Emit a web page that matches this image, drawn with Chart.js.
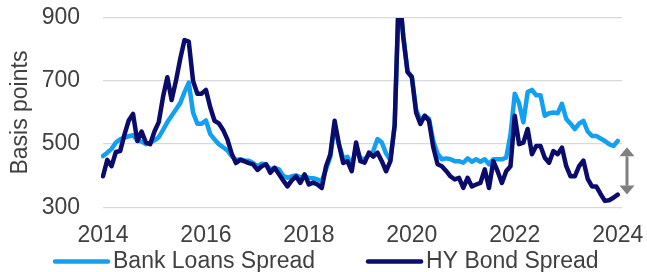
<!DOCTYPE html>
<html>
<head>
<meta charset="utf-8">
<script src="https://cdn.jsdelivr.net/npm/chart.js@4.4.1/dist/chart.umd.min.js"></script>
<style>
  html, body { margin: 0; padding: 0; background: #fff; }
</style>
</head>
<body>
<canvas id="spreadChart" width="647" height="272"></canvas>
<script>
// monthly categories, Jan 2014 .. Feb 2024 (last one is only room at the right edge)
let months = [];
for (let yr = 2014; yr <= 2024; yr++) {
    for (let m = 1; m <= 12; m++) {
        if (yr === 2024 && m > 2) break;
        months.push(yr + '-' + String(m).padStart(2, '0'));
    }
}
let yearTicks = ['2014', '2016', '2018', '2020', '2022', '2024'];
let yTicks = [300, 500, 700, 900];

// Bank loans spread, bp
let bankLoans = [
    462, 473, 485, 505, 515, 521, 525, 528, 512, 508, 500, 505,
    512, 522, 545, 570, 590, 610, 630, 665, 695, 600, 565, 565,
    575, 532, 515, 500, 490, 480, 462, 450, 452, 448, 447, 440,
    430, 438, 436, 420, 425, 420, 400, 393, 398, 401, 395, 398,
    393, 392, 388, 382, 420, 460, 560, 500, 455, 460, 430, 490,
    455, 452, 465, 478, 516, 505, 470, 450, 560, 980, 845, 730,
    713, 610, 575, 590, 580, 510, 470, 452, 455, 452, 446, 446,
    441, 455, 444, 452, 444, 452, 436, 452, 452, 452, 457, 530,
    660, 630, 569, 665, 672, 655, 655, 590, 598, 600, 598, 628,
    580, 565, 548, 565, 574, 540, 526, 526, 518, 510, 500, 494,
    510
];

// HY bond spread, bp
let hyBonds = [
    398, 450, 430, 475, 478, 530, 575, 596, 510, 540, 505, 500,
    540, 570, 650, 712, 640, 700, 770, 830, 825, 700, 660, 660,
    672, 617, 574, 566, 545, 515, 470, 440, 450, 445, 440, 436,
    418, 430, 436, 409, 425, 405, 385, 366, 385, 398, 377, 404,
    372, 378, 372, 361, 430, 468, 574, 500, 440, 446, 414, 505,
    446, 441, 473, 460, 473, 446, 414, 446, 560, 1000, 840, 729,
    713, 600, 564, 590, 574, 490, 436, 430, 415, 398, 388, 393,
    361, 393, 366, 372, 377, 420, 361, 446, 414, 377, 414, 430,
    590, 500, 505, 548, 468, 494, 494, 457, 441, 478, 468, 489,
    430, 398, 398, 430, 448, 390, 366, 366, 342, 320, 322, 330,
    340
];

// grey arrow showing the gap at the end (bp)
let gapArrow = [490, 340];

let textColor = '#404040';
let fontFamily = '"Liberation Sans", Arial, sans-serif';

// legend drawn by hand so the spacing matches
let bottomLegend = {
    id: 'bottomLegend',
    afterDraw(chart) {
        let ctx = chart.ctx;
        let x = 55;
        let y = 261.5;
        ctx.save();
        ctx.font = '23px ' + fontFamily;
        ctx.textBaseline = 'middle';
        ctx.lineCap = 'round';
        chart.data.datasets.forEach((ds) => {
            ctx.strokeStyle = ds.borderColor;
            ctx.lineWidth = 4.5;
            ctx.beginPath();
            ctx.moveTo(x, y);
            ctx.lineTo(x + 53, y);
            ctx.stroke();
            ctx.fillStyle = textColor;
            ctx.fillText(ds.label, x + 58, y);
            x += 58 + ctx.measureText(ds.label).width + 53;
        });
        ctx.restore();
    }
};

let arrowPlugin = {
    id: 'gapArrow',
    afterDatasetsDraw(chart) {
        let ctx = chart.ctx;
        let yScale = chart.scales.y;
        let x = chart.chartArea.right + 5;
        let top = yScale.getPixelForValue(gapArrow[0]);
        let bottom = yScale.getPixelForValue(gapArrow[1]);
        let head = 9, half = 7.5;
        ctx.save();
        ctx.strokeStyle = '#808080';
        ctx.fillStyle = '#808080';
        ctx.lineWidth = 3;
        ctx.beginPath();
        ctx.moveTo(x, top + head);
        ctx.lineTo(x, bottom - head);
        ctx.stroke();
        ctx.beginPath();
        ctx.moveTo(x, top);
        ctx.lineTo(x - half, top + head);
        ctx.lineTo(x + half, top + head);
        ctx.closePath();
        ctx.fill();
        ctx.beginPath();
        ctx.moveTo(x, bottom);
        ctx.lineTo(x - half, bottom - head);
        ctx.lineTo(x + half, bottom - head);
        ctx.closePath();
        ctx.fill();
        ctx.restore();
    }
};

let ctx = document.getElementById('spreadChart').getContext('2d');
let spreadChart = new Chart(ctx, {
    type: 'line',
    data: {
        labels: months,
        datasets: [{
            label: 'Bank Loans Spread',
            data: bankLoans,
            borderColor: '#14A0F0',
            order: 1
        }, {
            label: 'HY Bond Spread',
            data: hyBonds,
            borderColor: '#0B0B6B',
            order: 0
        }]
    },
    options: {
        responsive: false,
        animation: false,
        events: [],
        layout: {
            padding: { top: 18, right: 25, bottom: 23.5, left: 0 }
        },
        elements: {
            line: { borderWidth: 4.5, tension: 0, borderJoinStyle: 'round', borderCapStyle: 'round' },
            point: { radius: 0 }
        },
        scales: {
            x: {
                grid: { display: false },
                border: { display: false },
                afterFit: (scale) => {
                    scale.height = 41.3;
                },
                ticks: {
                    autoSkip: false,
                    maxRotation: 0,
                    minRotation: 0,
                    padding: 7,
                    color: textColor,
                    font: { size: 23, family: fontFamily },
                    callback: function (value) {
                        let lbl = months[value];
                        if (lbl.endsWith('-01') && yearTicks.includes(lbl.slice(0, 4))) {
                            return lbl.slice(0, 4);
                        }
                        return '';
                    }
                }
            },
            y: {
                min: 300,
                max: 900,
                afterBuildTicks: (scale) => {
                    scale.ticks = yTicks.map(v => ({ value: v }));
                },
                afterFit: (scale) => {
                    scale.width = 103;
                },
                grid: {
                    color: '#D9D9D9',
                    lineWidth: 1.3,
                    drawTicks: true,
                    tickLength: 23,
                    tickColor: 'rgba(0,0,0,0)'
                },
                border: { display: false },
                ticks: {
                    padding: 0,
                    color: textColor,
                    font: { size: 23, family: fontFamily }
                },
                title: {
                    display: true,
                    text: 'Basis points',
                    color: textColor,
                    padding: { top: 7, bottom: 4 },
                    font: { size: 23, family: fontFamily }
                }
            }
        },
        plugins: {
            legend: { display: false },
            tooltip: { enabled: false }
        }
    },
    plugins: [bottomLegend, arrowPlugin]
});
</script>
</body>
</html>
